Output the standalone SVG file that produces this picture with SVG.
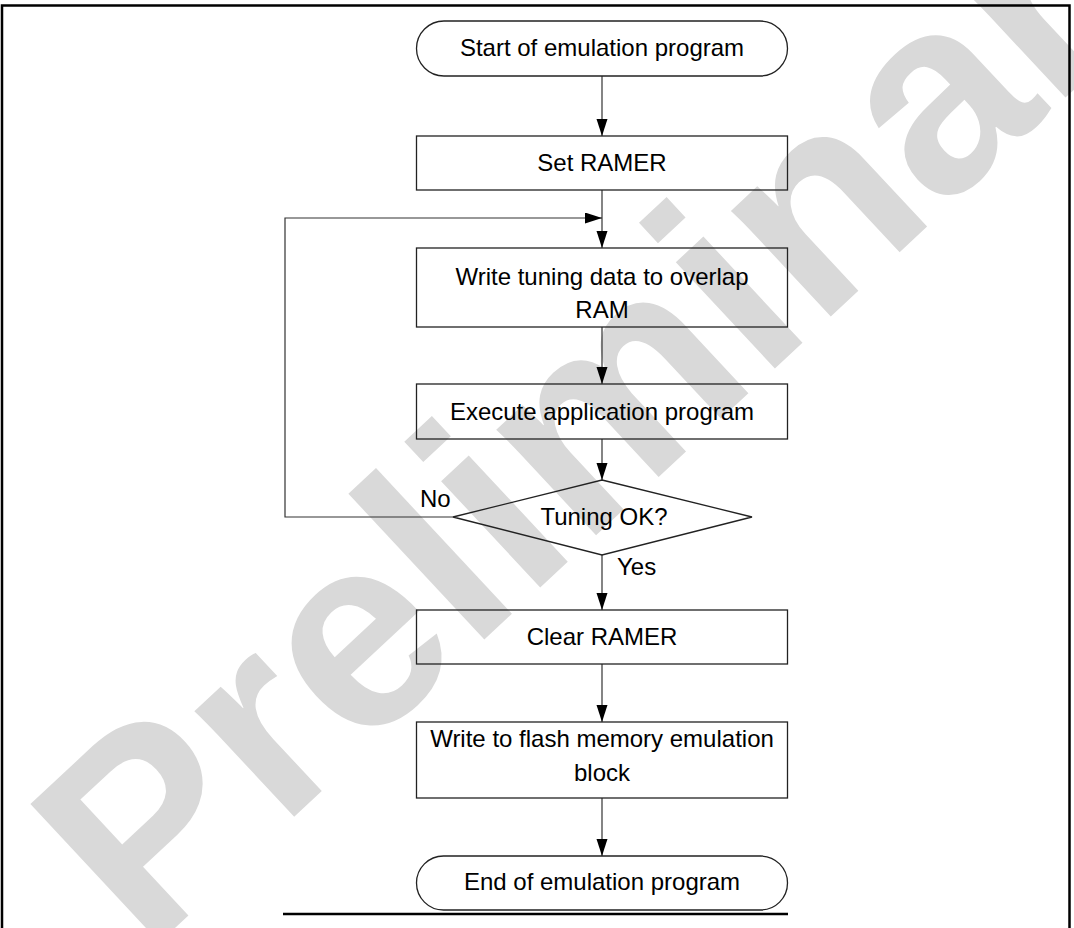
<svg xmlns="http://www.w3.org/2000/svg" width="1074" height="928" viewBox="0 0 1074 928">
<defs>
<marker id="ah" markerUnits="userSpaceOnUse" markerWidth="17" markerHeight="12" refX="17" refY="5.5" orient="auto">
<path d="M0,0 L17,5.5 L0,11 z" fill="#000"/>
</marker>
<style>
.box{fill:none;stroke:#222;stroke-width:1.3}
.con{fill:none;stroke:#333;stroke-width:1.2}
.t{font-family:"Liberation Sans",Arial,sans-serif;font-size:24px;fill:#000;text-anchor:middle}
.lbl{font-family:"Liberation Sans",Arial,sans-serif;font-size:24px;fill:#000}
.wm{font-family:"Liberation Sans",Arial,sans-serif;font-weight:bold;font-size:275px;fill:#d9d9d9}
.frame{fill:none;stroke:#000;stroke-width:2.5}
</style>
</defs>
<rect width="1074" height="928" fill="#fff"/>
<text class="wm" transform="translate(146,955) rotate(-43)">Preliminary</text>
<path class="frame" d="M2,928 V5.5 H1069.5 V928"/>
<line x1="283" y1="914" x2="788" y2="914" stroke="#000" stroke-width="2.5"/>
<g id="connectors">
<line class="con" x1="602" y1="76" x2="602" y2="136" marker-end="url(#ah)"/>
<line class="con" x1="602" y1="190" x2="602" y2="248" marker-end="url(#ah)"/>
<path class="con" d="M453,517 H285 V218 H602" marker-end="url(#ah)"/>
<line class="con" x1="602" y1="327" x2="602" y2="384" marker-end="url(#ah)"/>
<line class="con" x1="602" y1="439" x2="602" y2="480" marker-end="url(#ah)"/>
<line class="con" x1="602" y1="555" x2="602" y2="610" marker-end="url(#ah)"/>
<line class="con" x1="602" y1="664" x2="602" y2="722" marker-end="url(#ah)"/>
<line class="con" x1="602" y1="798" x2="602" y2="856" marker-end="url(#ah)"/>
<text class="lbl" x="420" y="507">No</text>
<text class="lbl" x="617" y="575">Yes</text>
</g>
<g id="start">
<rect class="box" x="416.5" y="21" width="371" height="55" rx="27.5" ry="27.5"/>
<text class="t" x="602" y="56">Start of emulation program</text>
</g>
<g id="set-ramer">
<rect class="box" x="416.5" y="136" width="371" height="54"/>
<text class="t" x="602" y="171">Set RAMER</text>
</g>
<g id="write-tuning">
<rect class="box" x="416.5" y="248" width="371" height="79"/>
<text class="t" x="602" y="285">Write tuning data to overlap</text>
<text class="t" x="602" y="318">RAM</text>
</g>
<g id="execute">
<rect class="box" x="416.5" y="384" width="371" height="55"/>
<text class="t" x="602" y="420">Execute application program</text>
</g>
<g id="tuning-ok">
<polygon class="box" points="602,480 752,517 602,555 453,517"/>
<text class="t" x="604" y="525">Tuning OK?</text>
</g>
<g id="clear-ramer">
<rect class="box" x="416.5" y="610" width="371" height="54"/>
<text class="t" x="602" y="645">Clear RAMER</text>
</g>
<g id="write-flash">
<rect class="box" x="416.5" y="722" width="371" height="76"/>
<text class="t" x="602" y="747">Write to flash memory emulation</text>
<text class="t" x="602" y="781">block</text>
</g>
<g id="end">
<rect class="box" x="416.5" y="856" width="371" height="54" rx="27" ry="27"/>
<text class="t" x="602" y="890">End of emulation program</text>
</g>
</svg>
